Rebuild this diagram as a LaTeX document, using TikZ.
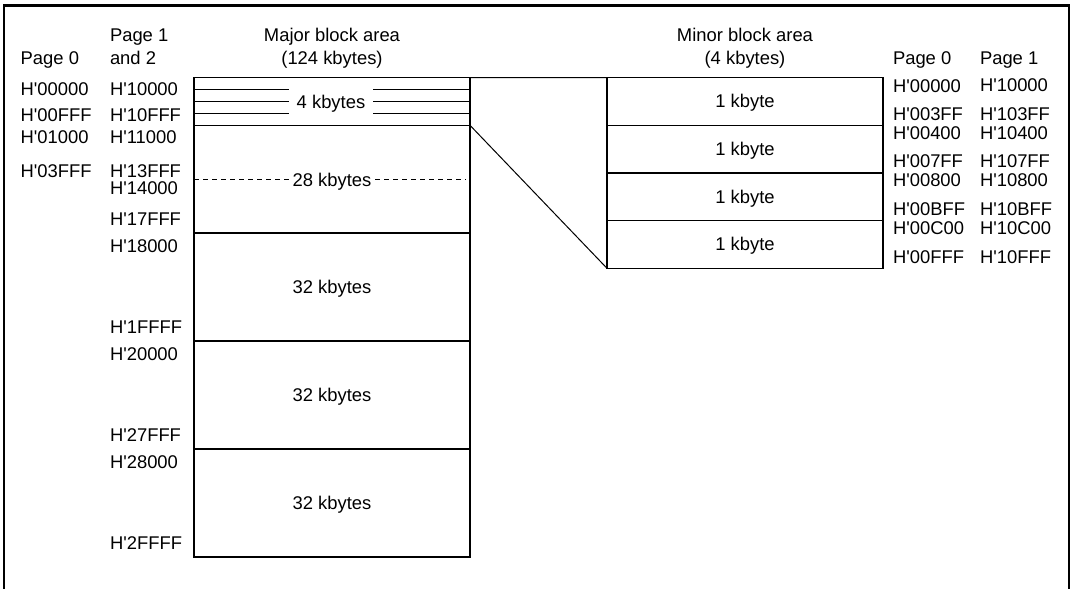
\documentclass[tikz,border=0pt]{standalone}
\usepackage{fontspec}
\setmainfont{Liberation Sans}
\usetikzlibrary{calc}
\newcommand\hq{H\textquotesingle}
\begin{document}
\begin{tikzpicture}[x=1pt,y=-1pt,
  every node/.style={font=\fontsize{18.4}{22}\selectfont, inner sep=0pt, outer sep=0pt},
  blk/.style={draw, line width=1.2pt, anchor=north west, minimum width=276pt, text height=13pt, text depth=0pt},
  mblk/.style={blk, minimum height=47.7pt},
  addr/.style={anchor=base west},
  head/.style={anchor=base},
  thinline/.style={line width=1pt},
  frameline/.style={line width=2.6pt}]
\useasboundingbox (0,0) rectangle (1072,589);
% frame
\draw[frameline] (3.8,589) -- (3.8,5.3) -- (1069,5.3) -- (1069,589);
% major block area
\node[blk, minimum height=47.6pt] (b4) at (194,77.7) {};
\node[blk, minimum height=107.7pt] (b28) at (b4.south west) {};
\node[blk, minimum height=108pt] (b32a) at (b28.south west) {32 kbytes};
\node[blk, minimum height=108pt] (b32b) at (b32a.south west) {32 kbytes};
\node[blk, minimum height=108pt] (b32c) at (b32b.south west) {32 kbytes};
\node[fill=white, inner xsep=8pt, text height=13pt, text depth=0pt] (t4) at (331,101.5) {4 kbytes};
\node[fill=white, inner xsep=4pt, text height=13pt, text depth=0pt] (t28) at ($(b28.center)+(0,1)$) {28 kbytes};
\foreach \f in {0.25,0.5,0.75}{
  \draw[thinline] ($(b4.north west)!\f!(b4.south west)$) -- (t4.west |- {$(b4.north west)!\f!(b4.south west)$});
  \draw[thinline] (t4.east |- {$(b4.north east)!\f!(b4.south east)$}) -- ($(b4.north east)!\f!(b4.south east)$);
}
\draw[thinline, dash pattern=on 5pt off 4pt] (b28.west) -- (t28.west |- b28.west);
\draw[thinline, dash pattern=on 5pt off 4pt] (t28.east |- b28.east) -- ([xshift=-4pt]b28.east);
% minor block area
\node[mblk] (m1) at (607,77.5) {1 kbyte};
\node[mblk] (m2) at (m1.south west) {1 kbyte};
\node[mblk] (m3) at (m2.south west) {1 kbyte};
\node[mblk] (m4) at (m3.south west) {1 kbyte};
\draw[thinline] (b4.north east) -- (m1.north west);
\draw[thinline] (b28.north east) -- (m4.south west);
% headings
\node[head] (hmaj1) at (332,41.5) {Major block area};
\node[head] (hmaj2) at (332,64) {(124 kbytes)};
\node[head] (hmin1) at (745,41.5) {Minor block area};
\node[head] (hmin2) at (745,64) {(4 kbytes)};
\node[addr] (hp0) at (20.7,64) {Page 0};
\node[addr] (hp1a) at (110,41.5) {Page 1};
\node[addr] (hp1b) at (110,64) {and 2};
\node[addr] (hmp0) at (893,64) {Page 0};
\node[addr] (hmp1) at (980,64) {Page 1};
% page 0 addresses (left)
\node[addr] (la1) at (20.7,95) {\hq00000};
\node[addr] (la2) at (20.7,121) {\hq00FFF};
\node[addr] (la3) at (20.7,143) {\hq01000};
\node[addr] (la4) at (20.7,177) {\hq03FFF};
% page 1 and 2 addresses
\node[addr] (lb1) at (110,95) {\hq10000};
\node[addr] (lb2) at (110,121) {\hq10FFF};
\node[addr] (lb3) at (110,143) {\hq11000};
\node[addr] (lb4) at (110,177) {\hq13FFF};
\node[addr] (lb5) at (110,194) {\hq14000};
\node[addr] (lb6) at (110,225.7) {\hq17FFF};
\node[addr] (lb7) at (110,252.3) {\hq18000};
\node[addr] (lb8) at (110,333.3) {\hq1FFFF};
\node[addr] (lb9) at (110,360.7) {\hq20000};
\node[addr] (lb10) at (110,441) {\hq27FFF};
\node[addr] (lb11) at (110,468.3) {\hq28000};
\node[addr] (lb12) at (110,549) {\hq2FFFF};
% minor addresses
\node[addr] (ra1) at (893,92.3) {\hq00000};
\node[addr] (ra2) at (893,120) {\hq003FF};
\node[addr] (ra3) at (893,139) {\hq00400};
\node[addr] (ra4) at (893,167.3) {\hq007FF};
\node[addr] (ra5) at (893,186.7) {\hq00800};
\node[addr] (ra6) at (893,215) {\hq00BFF};
\node[addr] (ra7) at (893,234.3) {\hq00C00};
\node[addr] (ra8) at (893,263.3) {\hq00FFF};
\node[addr] (rb1) at (980,91.5) {\hq10000};
\node[addr] (rb2) at (980,120) {\hq103FF};
\node[addr] (rb3) at (980,139) {\hq10400};
\node[addr] (rb4) at (980,167.3) {\hq107FF};
\node[addr] (rb5) at (980,186.7) {\hq10800};
\node[addr] (rb6) at (980,215) {\hq10BFF};
\node[addr] (rb7) at (980,234.3) {\hq10C00};
\node[addr] (rb8) at (980,263.3) {\hq10FFF};
\end{tikzpicture}
\end{document}
